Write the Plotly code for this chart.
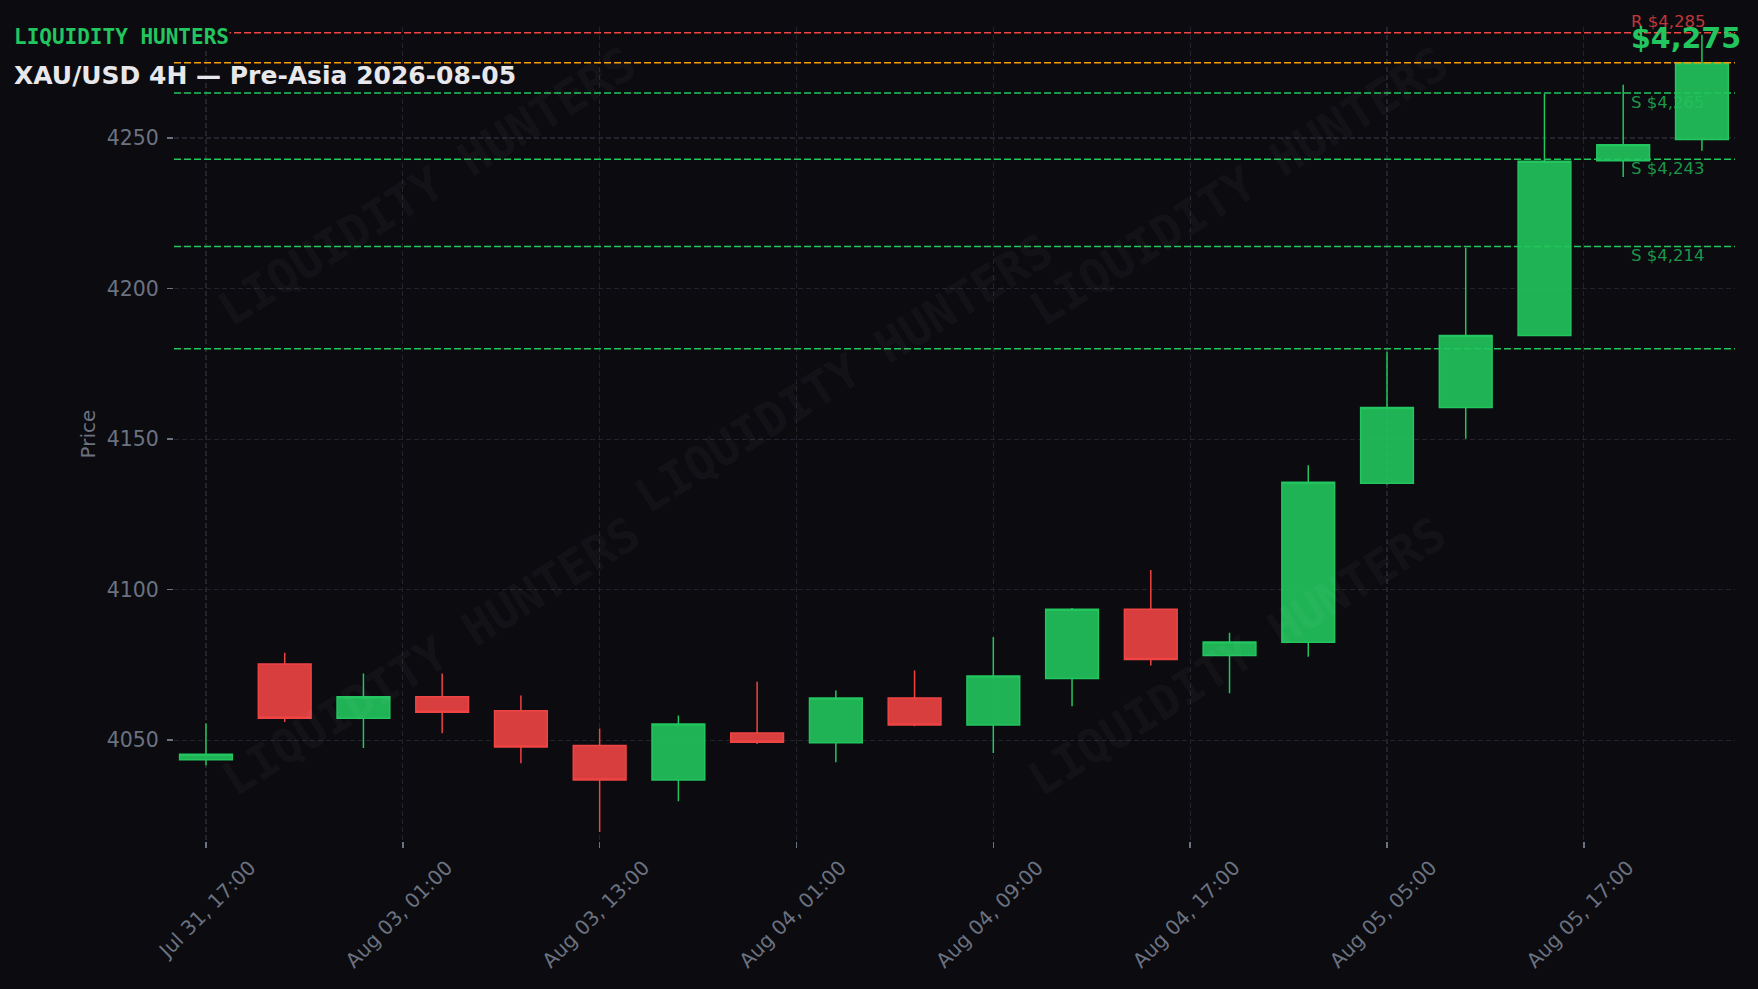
import plotly.graph_objects as go

# ---------------- data ----------------
candle_index = list(range(20))
opens  = [4043.5, 4075.3, 4057.3, 4064.4, 4059.8, 4048.2, 4036.8, 4052.4, 4049.1, 4064.0,
          4055.0, 4070.5, 4093.5, 4078.1, 4082.5, 4135.3, 4160.5, 4184.4, 4242.5, 4249.5]
highs  = [4055.5, 4079.0, 4072.1, 4072.1, 4064.8, 4053.9, 4058.2, 4069.4, 4066.5, 4073.1,
          4084.3, 4093.9, 4106.5, 4085.7, 4141.3, 4179.0, 4213.6, 4264.8, 4267.7, 4284.3]
lows   = [4041.7, 4056.0, 4047.4, 4052.3, 4042.3, 4019.5, 4029.7, 4048.7, 4042.7, 4054.6,
          4045.7, 4061.3, 4074.8, 4065.6, 4077.7, 4134.9, 4150.1, 4184.3, 4237.1, 4245.8]
closes = [4045.3, 4057.3, 4064.4, 4059.3, 4047.7, 4036.8, 4055.4, 4049.3, 4064.0, 4055.0,
          4071.3, 4093.5, 4076.8, 4082.6, 4135.7, 4160.5, 4184.4, 4242.3, 4247.8, 4275.0]

tick_index = [0, 2.5, 5, 7.5, 10, 12.5, 15, 17.5]
tick_labels = ["Jul 31, 17:00", "Aug 03, 01:00", "Aug 03, 13:00", "Aug 04, 01:00",
               "Aug 04, 09:00", "Aug 04, 17:00", "Aug 05, 05:00", "Aug 05, 17:00"]
y_ticks = [4050, 4100, 4150, 4200, 4250]

resistance_levels = [4285]
support_levels = [4265, 4243, 4214, 4180]
support_labelled = [True, True, True, False]
current_price = 4275

brand = "LIQUIDITY HUNTERS"
title = "XAU/USD 4H \u2014 Pre-Asia 2026-08-05"

# ---------------- styling / geometry ----------------
W, H = 1758, 989
L, R, T, B = 174, 23, 27, 148
PW, PH = W - L - R, H - T - B
BG = "#0b0b10"
GREEN = "#22c55e"
RED = "#ef4444"
ORANGE = "#f59e0b"
GRID = "#23232d"
AXIS_TXT = "#6b7280"


def px(xp):
    return (xp - L) / PW


def py(yp):
    return 1 - (yp - T) / PH


fig = go.Figure()
fig.add_trace(go.Candlestick(
    x=candle_index, open=opens, high=highs, low=lows, close=closes,
    increasing=dict(line=dict(color=GREEN, width=1.5), fillcolor="rgba(34,197,94,0.9)"),
    decreasing=dict(line=dict(color=RED, width=1.5), fillcolor="rgba(239,68,68,0.9)"),
    whiskerwidth=0, hoverinfo="skip", showlegend=False,
))

shapes = []
for lv in resistance_levels:
    shapes.append(dict(type="line", xref="paper", x0=0, x1=1, yref="y", y0=lv, y1=lv,
                       line=dict(color=RED, width=1.5, dash="7px,3px")))
shapes.append(dict(type="line", xref="paper", x0=0, x1=1, yref="y", y0=current_price, y1=current_price,
                   line=dict(color=ORANGE, width=1.5, dash="7px,3px")))
for lv in support_levels:
    shapes.append(dict(type="line", xref="paper", x0=0, x1=1, yref="y", y0=lv, y1=lv,
                       line=dict(color=GREEN, width=1.5, dash="7px,3px")))

ann = []
# watermarks
for cx, cy in [(426, 186), (1238, 186), (843, 373), (430, 656), (1236, 656)]:
    ann.append(dict(text=brand, xref="paper", yref="paper", x=px(cx), y=py(cy),
                    xanchor="center", yanchor="middle", showarrow=False, textangle=-32,
                    font=dict(family="DejaVu Sans Mono", size=47, weight="bold",
                              color="rgba(255,255,255,0.055)")))
# level labels
for lv in resistance_levels:
    ann.append(dict(text=f"R ${lv:,.0f}", xref="paper", yref="y", x=px(1629), y=lv,
                    xanchor="left", yanchor="bottom", showarrow=False,
                    font=dict(family="DejaVu Sans", size=16.5, color="rgba(239,68,68,0.8)")))
for lv, lab in zip(support_levels, support_labelled):
    if lab:
        ann.append(dict(text=f"S ${lv:,.0f}", xref="paper", yref="y", x=px(1629), y=lv,
                        xanchor="left", yanchor="top", yshift=2, showarrow=False,
                        font=dict(family="DejaVu Sans", size=16.5, color="rgba(34,197,94,0.75)")))
ann.append(dict(text=f"${current_price:,.0f}", xref="paper", yref="y", x=px(1629), y=current_price,
                xanchor="left", yanchor="bottom", yshift=6, showarrow=False,
                font=dict(family="DejaVu Sans", size=28.5, weight="bold", color=GREEN)))
# brand
ann.append(dict(text=brand, xref="paper", yref="paper", x=px(13), y=py(37),
                xanchor="left", yanchor="middle", showarrow=False, bgcolor=BG, borderpad=0,
                font=dict(family="DejaVu Sans Mono", size=21, weight="bold", color=GREEN)))

fig.update_layout(
    width=W, height=H,
    margin=dict(l=L, r=R, t=T, b=B, pad=0),
    paper_bgcolor=BG, plot_bgcolor=BG,
    showlegend=False, boxgap=0.33, boxgroupgap=0,
    font=dict(family="DejaVu Sans", color=AXIS_TXT),
    title=dict(text=title, xref="container", yref="container", x=14 / W, y=1 - 75 / H,
               xanchor="left", yanchor="middle",
               font=dict(family="DejaVu Sans", size=25, weight="bold", color="#e8e8ec")),
    shapes=shapes, annotations=ann,
    xaxis=dict(range=[-0.406, 19.42], tickmode="array", tickvals=tick_index, ticktext=tick_labels,
               tickangle=-45, ticks="outside", ticklen=6, tickwidth=1.5, tickcolor=AXIS_TXT,
               tickfont=dict(size=20, color=AXIS_TXT), ticklabelshift=44,
               showgrid=True, gridcolor=GRID, gridwidth=1.2, griddash="5px,3px",
               zeroline=False, showline=False, rangeslider=dict(visible=False)),
    yaxis=dict(range=[4016.5, 4286.9], tickmode="array", tickvals=y_ticks,
               ticks="outside", ticklen=6, tickwidth=1.5, tickcolor=AXIS_TXT,
               tickfont=dict(size=20.5, color=AXIS_TXT), ticklabelstandoff=4,
               title=dict(text="Price", font=dict(size=20, color=AXIS_TXT), standoff=5),
               showgrid=True, gridcolor=GRID, gridwidth=1.2, griddash="5px,3px",
               zeroline=False, showline=False),
)

fig.write_html(
    "out.html",
    config={"displayModeBar": False, "staticPlot": True},
    post_script=("document.body.style.margin='0';document.body.style.padding='0';"
                 "document.body.style.background='#0b0b10';"
                 "document.documentElement.style.overflow='hidden';"),
)
